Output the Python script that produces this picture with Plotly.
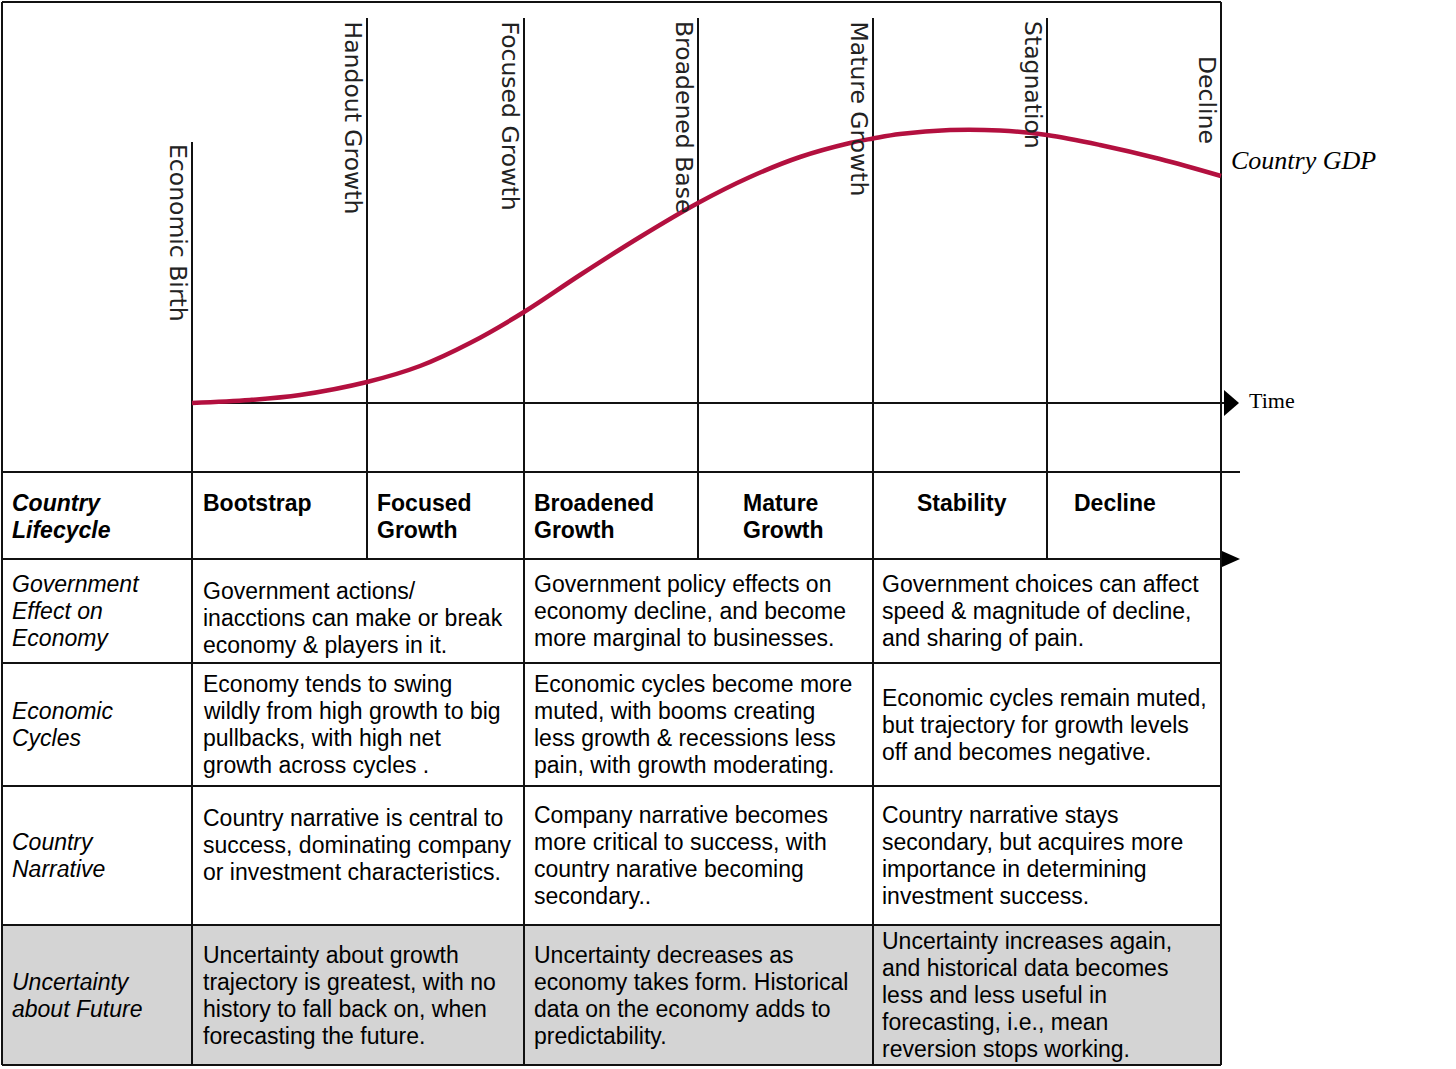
import plotly.graph_objects as go

gdp_x = [192, 250, 300, 367, 420, 470, 524, 580, 640, 698, 750, 800, 850,
         873, 900, 950, 1000, 1047, 1100, 1160, 1221]
gdp_y = [403, 400, 395, 382, 366, 343, 312, 275, 237, 203, 177, 157, 143,
         138.5, 134, 130, 130.5, 135, 145, 159, 176]

stage_names = ["Economic Birth", "Handout Growth", "Focused Growth", "Broadened Base",
               "Mature Growth", "Stagnation", "Decline"]
stage_x = [192, 367, 524, 698, 873, 1047, 1221]

header_label = "Country\nLifecycle"
header_cells = ["Bootstrap", "Focused\nGrowth", "Broadened\nGrowth", "Mature\nGrowth",
                "Stability", "Decline"]

row_labels = ["Government\nEffect on\nEconomy", "Economic\nCycles", "Country\nNarrative",
              "Uncertainty\nabout Future"]

row_texts = [
    ["Government actions/\ninacctions can make or break\neconomy & players in it.",
     "Government policy effects on\neconomy decline, and become\nmore marginal to businesses.",
     "Government choices can affect\nspeed & magnitude of decline,\nand sharing of pain."],
    ["Economy tends to swing\nwildly from high growth to big\npullbacks, with high net\ngrowth across cycles .",
     "Economic cycles become more\nmuted, with booms creating\nless growth & recessions less\npain, with growth moderating.",
     "Economic cycles remain muted,\nbut trajectory for growth levels\noff and becomes negative."],
    ["Country narrative is central to\nsuccess, dominating company\nor investment characteristics.",
     "Company narrative becomes\nmore critical to success, with\ncountry narative becoming\nsecondary..",
     "Country narrative stays\nsecondary, but acquires more\nimportance in determining\ninvestment success."],
    ["Uncertainty about growth\ntrajectory is greatest, with no\nhistory to fall back on, when\nforecasting the future.",
     "Uncertainty decreases as\neconomy takes form. Historical\ndata on the economy adds to\npredictability.",
     "Uncertainty increases again,\nand historical data becomes\nless and less useful in\nforecasting, i.e., mean\nreversion stops working."],
]

# Layout-Konstanten
W, H = 1456, 1069
LEFT, RIGHT, TOP, BOTTOM = 2, 1221, 2, 1065
AXIS_Y = 403
HEAD_TOP, HEAD_BOT = 472, 559
ROW_Y = [559, 663, 786, 925, 1065]
BODY_X = [201, 532, 880]
HEAD_X = [201, 375, 532, 741, 915, 1072]
SANS = "Liberation Sans"
BLACK = "#111111"

fig = go.Figure()

fig.add_trace(go.Scatter(x=gdp_x, y=gdp_y, mode="lines",
                         line=dict(color="#b3103f", width=4.5, shape="spline", smoothing=1),
                         hoverinfo="skip", showlegend=False))

shapes = []


def hline(y, x0, x1):
    shapes.append(dict(type="line", x0=x0, x1=x1, y0=y, y1=y, layer="below",
                       line=dict(color=BLACK, width=2)))


def vline(x, y0, y1):
    shapes.append(dict(type="line", x0=x, x1=x, y0=y0, y1=y1, layer="below",
                       line=dict(color=BLACK, width=2)))


# grauer Hintergrund der letzten Zeile
shapes.append(dict(type="rect", x0=LEFT, x1=RIGHT, y0=ROW_Y[3], y1=BOTTOM, layer="below",
                   fillcolor="#d4d4d4", line=dict(width=0)))

# Rahmen
hline(TOP, LEFT, RIGHT)
hline(BOTTOM, LEFT, RIGHT)
vline(LEFT, TOP, BOTTOM)
vline(RIGHT, TOP, BOTTOM)

# Phasenlinien
for i, sx in enumerate(stage_x[:-1]):
    y_start = 142 if i == 0 else 18
    y_end = BOTTOM if i % 2 == 0 else HEAD_BOT
    vline(sx, y_start, y_end)

# Zeitachse + Tabellenlinien
hline(AXIS_Y, stage_x[0], RIGHT + 4)
hline(HEAD_TOP, LEFT, RIGHT + 19)
for ry in ROW_Y[:-1]:
    hline(ry, LEFT, RIGHT)

# Pfeile
shapes.append(dict(type="path", path="M 1224 390 L 1239 403 L 1224 416 Z",
                   fillcolor="black", line=dict(width=0)))
shapes.append(dict(type="path", path="M 1222 551 L 1240 559 L 1222 567 Z",
                   fillcolor="black", line=dict(width=0)))

annotations = []


def add_text(x, y, text, size=23, bold=False, italic=False, spacing=27, anchor="middle",
             family=SANS):
    lines = text.split("\n")
    if anchor == "middle":
        y0 = y - spacing * (len(lines) - 1) / 2
    else:
        y0 = y
    for i, ln in enumerate(lines):
        t = ln
        if bold:
            t = "<b>" + t + "</b>"
        if italic:
            t = "<i>" + t + "</i>"
        annotations.append(dict(x=x, y=y0 + i * spacing, text=t, showarrow=False,
                                xanchor="left", yanchor="middle", xref="x", yref="y",
                                font=dict(family=family, size=size, color="black")))


# senkrechte Phasenbeschriftungen
label_top = [142, 19, 19, 19, 19, 19, 54]
for name, sx, ty in zip(stage_names, stage_x, label_top):
    annotations.append(dict(x=sx + 2, y=ty, text=name, textangle=90, showarrow=False,
                            xanchor="right", yanchor="top", xref="x", yref="y",
                            font=dict(family="DejaVu Sans", size=23.5, color="#222222")))

annotations.append(dict(x=1229, y=160, text="<i>Country GDP</i>", showarrow=False,
                        xanchor="left", yanchor="middle", xref="x", yref="y",
                        font=dict(family="Liberation Serif", size=26, color="black")))
annotations.append(dict(x=1247, y=400, text="Time", showarrow=False,
                        xanchor="left", yanchor="middle", xref="x", yref="y",
                        font=dict(family="Liberation Serif", size=22, color="black")))

# Kopfzeile
add_text(10, 503, header_label, bold=True, italic=True, anchor="top")
for hx, cell in zip(HEAD_X, header_cells):
    add_text(hx, 503, cell, bold=True, anchor="top")

# Tabellenzeilen
shift = {(0, 0): 7, (2, 0): -11}
for r, (lab, cells) in enumerate(zip(row_labels, row_texts)):
    yc = (ROW_Y[r] + ROW_Y[r + 1]) / 2
    add_text(10, yc, lab, italic=True)
    for c, txt in enumerate(cells):
        add_text(BODY_X[c], yc + shift.get((r, c), 0), txt)

fig.update_layout(
    width=W, height=H,
    margin=dict(l=0, r=0, t=0, b=0),
    paper_bgcolor="white", plot_bgcolor="white",
    xaxis=dict(range=[0, W], visible=False, fixedrange=True),
    yaxis=dict(range=[H, 0], visible=False, fixedrange=True),
    shapes=shapes,
    annotations=annotations,
    showlegend=False,
)

fig.write_html("out.html", config={"displayModeBar": False},
               post_script="document.body.style.margin='0px';")
